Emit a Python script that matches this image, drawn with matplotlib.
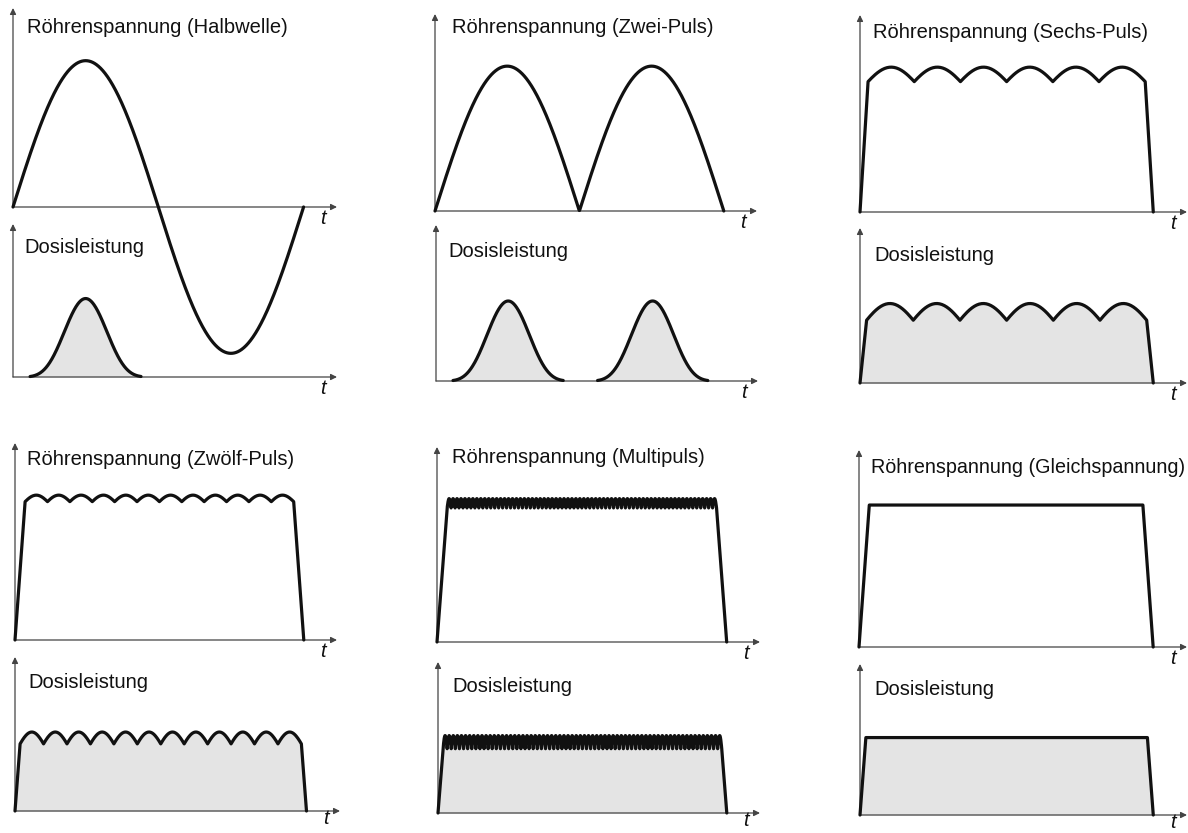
import matplotlib
matplotlib.use('Agg')
import matplotlib.pyplot as plt
import numpy as np

plt.rcParams['font.family'] = ['Liberation Sans', 'DejaVu Sans']

# Beschriftungen
titles = ['Röhrenspannung (Halbwelle)', 'Röhrenspannung (Zwei-Puls)',
          'Röhrenspannung (Sechs-Puls)', 'Röhrenspannung (Zwölf-Puls)',
          'Röhrenspannung (Multipuls)', 'Röhrenspannung (Gleichspannung)']
dose_label = 'Dosisleistung'

# Zeit in ms, Spannung und Dosisleistung relativ
exposure_ms = 20.0
n_pulses = [1, 2, 6, 12, 68, 1]                 # Höcker pro Aufnahme
u_level = [1.0, 1.0, 1.0, 1.0, 1.0, 0.98]       # Scheitelwert Spannung
u_ripple = [0.0, 0.0, 0.10, 0.045, 0.065, 0.0]  # Welligkeit Spannung
d_level = [1.0, 1.0, 1.0, 1.0, 1.0, 1.0]        # Scheitelwert Dosisleistung
d_ripple = [0.0, 0.0, 0.21, 0.15, 0.17, 0.0]    # Welligkeit Dosisleistung
u_ramp = [0.0, 0.0, 0.55, 0.7, 0.7, 0.7]        # Anstieg/Abfall Spannung (ms)
d_ramp = [0.0, 0.0, 0.45, 0.35, 0.35, 0.4]      # Anstieg/Abfall Dosis (ms)
bell_power = 5                                  # Dosis ~ u^5 bei Halbwelle

X_MAX = 22.3     # Länge der Zeitachse (ms)
U_MAX = 1.36
D_MAX = 1.95

W, H = 1188, 833
fig = plt.figure(figsize=(W / 100, H / 100), dpi=100)
fig.patch.set_facecolor('white')

# Achsenkästen in Pixeln: (x Ursprung, y Ursprung, x Pfeilspitze, y Pfeilspitze)
v_boxes = [(13, 207, 337, 8), (435, 211, 757, 14), (860, 212, 1187, 15),
           (15, 640, 337, 443), (437, 642, 760, 447), (859, 647, 1187, 450)]
d_boxes = [(13, 377, 337, 224), (436, 381, 758, 225), (860, 383, 1187, 228),
           (15, 811, 340, 657), (438, 813, 760, 662), (860, 815, 1187, 664)]
title_pos = [(27, 33), (452, 33), (873, 38), (27, 465), (452, 463), (871, 473)]
title_size = [14.5, 14.5, 14.5, 14.5, 14.5, 14.2]
dose_pos = [(24, 253), (448, 257), (874, 261), (28, 688), (452, 692), (874, 695)]

LINE = '#111111'
AXC = '#444444'
FILL = '#e4e4e4'
LW = 2.3


def px_axes(box):
    x0, yb, xt, yt = box
    ax = fig.add_axes([x0 / W, 1 - yb / H, (xt - x0) / W, (yb - yt) / H])
    ax.set_axis_off()
    return ax


def draw_arrows(ax, xmax, ymax, t_drop):
    ap = dict(arrowstyle='-|>', color=AXC, lw=0.9, mutation_scale=9,
              shrinkA=0, shrinkB=0)
    ax.annotate('', xy=(xmax, 0), xytext=(0, 0), arrowprops=ap, annotation_clip=False)
    ax.annotate('', xy=(0, ymax), xytext=(0, 0), arrowprops=ap, annotation_clip=False)
    ax.annotate('t', xy=(xmax, 0), xytext=(-10, -t_drop), textcoords='offset points',
                ha='center', va='baseline', fontsize=14.5, style='italic',
                color=LINE, annotation_clip=False)


def rippled(level, ripple, n, ramp, npts=40):
    # Anstieg, n Höcker, Abfall
    th_m = 1.3
    th = np.linspace(-th_m, th_m, npts)
    if ripple > 0:
        shape = 1 - ripple * (1 - np.cos(th)) / (1 - np.cos(th_m))
    else:
        shape = np.ones(npts)
    edges = np.linspace(ramp, exposure_ms - ramp, n + 1)
    t = [np.array([0.0])]
    y = [np.array([0.0])]
    for a, b in zip(edges[:-1], edges[1:]):
        t.append(np.linspace(a, b, npts))
        y.append(level * shape)
    t.append(np.array([exposure_ms]))
    y.append(np.array([0.0]))
    return np.concatenate(t), np.concatenate(y)


for i in range(6):
    ax_u = px_axes(v_boxes[i])
    ax_d = px_axes(d_boxes[i])
    d_drop = 12.5 if i < 3 else 9.5   # unterste Zeile: Platz am Bildrand
    for ax, top, drop in ((ax_u, U_MAX, 12.5), (ax_d, D_MAX, d_drop)):
        ax.set_xlim(0, X_MAX)
        ax.set_ylim(0, top)
        draw_arrows(ax, X_MAX, top, drop)

    if i in (0, 1):
        t = np.linspace(0, exposure_ms, 800)
        s = np.sin(2 * np.pi * t / exposure_ms)
        if i == 0:
            u = u_level[i] * s
            d = d_level[i] * np.clip(s, 0, None) ** bell_power
        else:
            u = u_level[i] * np.abs(s)
            d = d_level[i] * np.abs(s) ** bell_power
        td = t
        d_line = np.where(d > 0.006, d, np.nan)
    else:
        t, u = rippled(u_level[i], u_ripple[i], n_pulses[i], u_ramp[i])
        td, d = rippled(d_level[i], d_ripple[i], n_pulses[i], d_ramp[i])
        d_line = d

    ax_u.plot(t, u, color=LINE, lw=LW, solid_joinstyle='round',
              solid_capstyle='round', clip_on=False, zorder=3)
    ax_d.fill_between(td, 0, d, color=FILL, lw=0, zorder=1)
    ax_d.plot(td, d_line, color=LINE, lw=LW, solid_joinstyle='round',
              solid_capstyle='round', clip_on=False, zorder=3)

    fig.text(title_pos[i][0] / W, 1 - title_pos[i][1] / H, titles[i],
             fontsize=title_size[i], va='baseline', ha='left', color=LINE)
    fig.text(dose_pos[i][0] / W, 1 - dose_pos[i][1] / H, dose_label,
             fontsize=14.5, va='baseline', ha='left', color=LINE)

plt.savefig('out.png', dpi=100, facecolor='white')
plt.close()
